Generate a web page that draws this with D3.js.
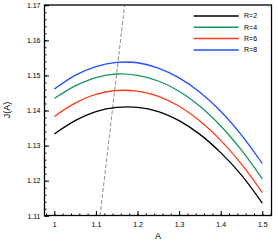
<!DOCTYPE html>
<html><head><meta charset="utf-8">
<script src="https://cdn.jsdelivr.net/npm/d3@7"></script>
<style>body{margin:0;background:#fff}svg{display:block;font-family:"Liberation Sans",Arial,sans-serif}</style>
</head><body><svg id="c" width="278" height="250"></svg>
<script>
const A = [1.00,1.05,1.10,1.15,1.20,1.25,1.30,1.35,1.40,1.45,1.50];
const seriesNames = ["R=2","R=4","R=6","R=8"];
const seriesColors = ["#000000","#17955a","#ff3a1c","#1f50ff"];
const jR2 = [1.1333,1.1371,1.1397,1.1409,1.1409,1.1397,1.1371,1.1332,1.1280,1.1216,1.1136];
const jR4 = [1.1434,1.1470,1.1494,1.1504,1.1500,1.1484,1.1455,1.1412,1.1356,1.1287,1.1205];
const jR6 = [1.1383,1.1421,1.1446,1.1457,1.1455,1.1440,1.1412,1.1370,1.1315,1.1247,1.1166];
const jR8 = [1.1461,1.1500,1.1525,1.1537,1.1536,1.1521,1.1493,1.1452,1.1398,1.1330,1.1249];
const seriesValues = [jR2, jR4, jR6, jR8];
const dashA = [1.110, 1.169];
const dashJ = [1.110, 1.170];
const xTicks = [1, 1.1, 1.2, 1.3, 1.4, 1.5];
const xTickLabels = ["1","1.1","1.2","1.3","1.4","1.5"];
const yTicks = [1.11,1.12,1.13,1.14,1.15,1.16,1.17];
const yTickLabels = ["1.11","1.12","1.13","1.14","1.15","1.16","1.17"];

const svg = d3.select("#c");
const L=44.5, R=271.5, T=5, B=215.5;
const x = d3.scaleLinear().domain([0.9764,1.5221]).range([L,R]);
const y = d3.scaleLinear().domain([1.11,1.17]).range([215.8,5.2]);

const g = svg.append("g");
g.append("line").attr("x1",x(dashA[0])).attr("y1",y(dashJ[0])).attr("x2",x(dashA[1])).attr("y2",y(dashJ[1]))
 .attr("stroke","#8f8f8f").attr("stroke-width",1).attr("stroke-dasharray","4,2");

const line = d3.line().x((d,i)=>x(A[i])).y(d=>y(d)).curve(d3.curveCatmullRom);
seriesValues.forEach((vals,k)=>{
  g.append("path").datum(vals).attr("d",line).attr("fill","none")
   .attr("stroke",seriesColors[k]).attr("stroke-width",1.3);
});

const xMinor = d3.range(0.98,1.521,0.02).map(v=>+v.toFixed(2));
const yMinor = d3.range(1.11,1.1701,0.002).map(v=>+v.toFixed(3));
const ax = svg.append("g").attr("transform",`translate(0,${B})`);
ax.call(d3.axisBottom(x).tickValues(xMinor).tickSize(-2).tickFormat(""));
ax.select(".domain").remove();
const ax2 = svg.append("g").attr("transform",`translate(0,${B})`);
ax2.call(d3.axisBottom(x).tickValues(xTicks).tickSize(-4.5).tickPadding(7).tickFormat((d,i)=>xTickLabels[i]));
ax2.select(".domain").remove();
ax2.selectAll("text").attr("font-size",7).attr("fill","#000");

const ay = svg.append("g").attr("transform",`translate(${L},0)`);
ay.call(d3.axisLeft(y).tickValues(yMinor).tickSize(-2).tickFormat(""));
ay.select(".domain").remove();
const ay2 = svg.append("g").attr("transform",`translate(${L},0)`);
ay2.call(d3.axisLeft(y).tickValues(yTicks).tickSize(-4.5).tickPadding(4).tickFormat((d,i)=>yTickLabels[i]));
ay2.select(".domain").remove();
ay2.selectAll("text").attr("font-size",7).attr("fill","#000");
svg.selectAll(".tick line").attr("stroke","#000").attr("stroke-width",1);

svg.append("rect").attr("x",L).attr("y",T).attr("width",R-L).attr("height",B-T)
 .attr("fill","none").attr("stroke","#000").attr("stroke-width",1.3);

svg.append("text").attr("x",158).attr("y",239).attr("text-anchor","middle").attr("font-size",9).text("A");
svg.append("text").attr("transform","translate(10,110) rotate(-90)").attr("text-anchor","middle").attr("font-size",9).text("J(A)");

const leg = svg.append("g");
seriesNames.forEach((n,k)=>{
  const yy = 16 + k*11.3;
  leg.append("line").attr("x1",193.7).attr("x2",238.7).attr("y1",yy).attr("y2",yy)
   .attr("stroke",seriesColors[k]).attr("stroke-width",1.5);
  leg.append("text").attr("x",244).attr("y",yy).attr("dy","0.35em").attr("font-size",7).text(n);
});
</script></body></html>
